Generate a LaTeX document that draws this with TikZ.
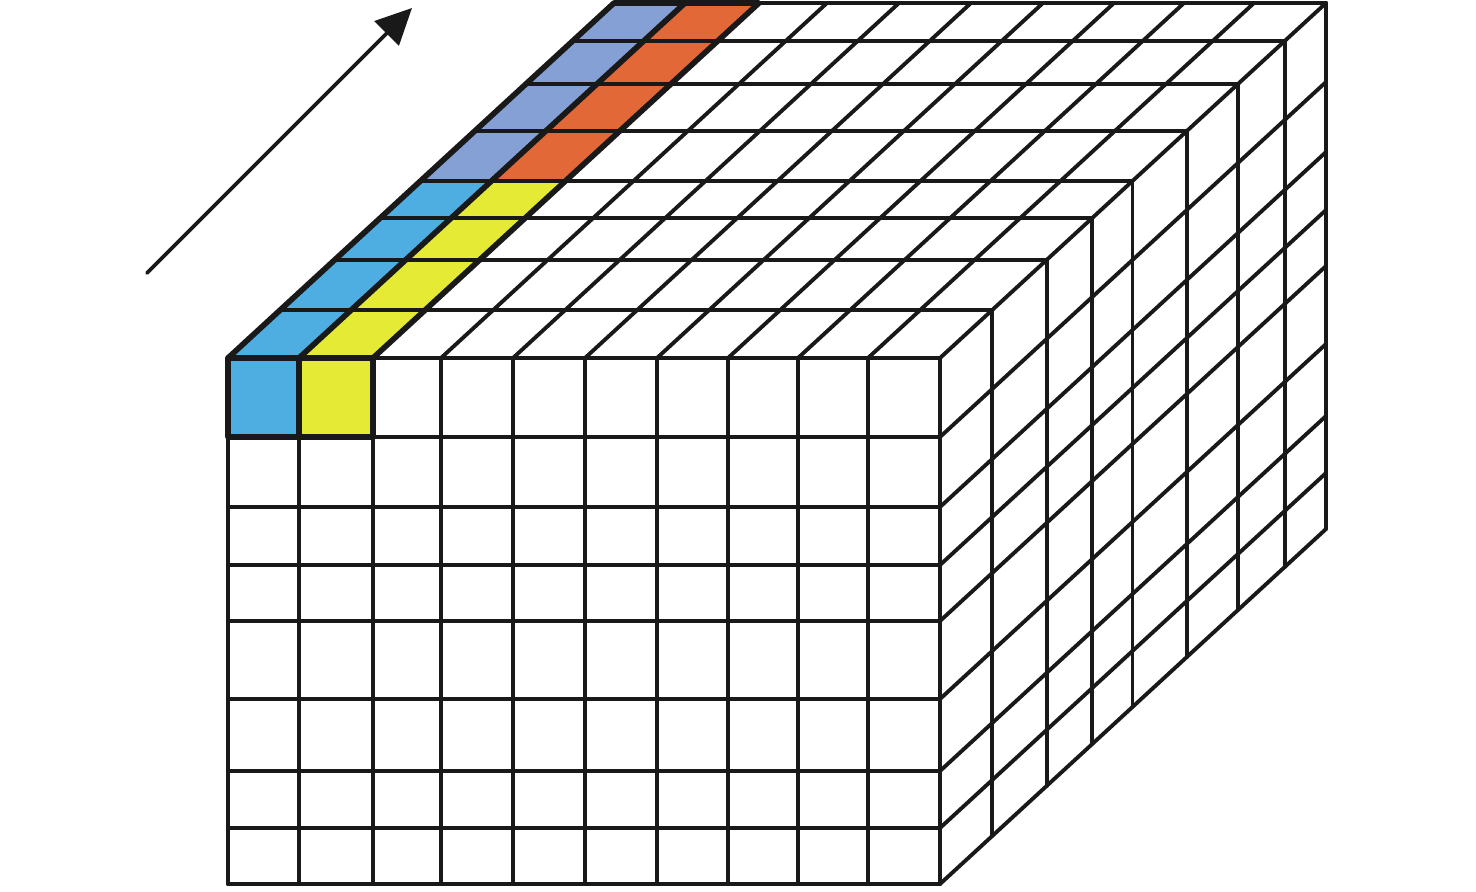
\documentclass[tikz,border=0pt]{standalone}
\usetikzlibrary{arrows.meta}
\definecolor{cellblue}{RGB}{78,174,226}
\definecolor{cellyellow}{RGB}{229,235,53}
\definecolor{cellviolet}{RGB}{132,160,212}
\definecolor{cellorange}{RGB}{227,104,56}
\tikzset{
  gridline/.style={line width=1.1pt,draw=black!90},
  boldedge/.style={line width=1.6pt,draw=black!90}
}

\begin{document}
\begin{tikzpicture}[x=0.01cm,y=-0.01cm,line join=round,line cap=round]
\useasboundingbox (0,0) rectangle (1476,891);
% coloured strips on top and front
\fill [cellblue] (228,358) -- (299,358) -- (491,181) -- (420,181) -- cycle;
\fill [cellyellow] (299,358) -- (373,358) -- (565,181) -- (491,181) -- cycle;
\fill [cellviolet] (420,181) -- (491,181) -- (685,3) -- (614,3) -- cycle;
\fill [cellorange] (491,181) -- (565,181) -- (759,3) -- (685,3) -- cycle;
\fill [cellblue] (228,358) rectangle (299,437);
\fill [cellyellow] (299,358) rectangle (373,437);
% front face
\foreach \x in {228,299,373,441,513,585,657,728,798,868,940}
  \draw [gridline] (\x,358) -- (\x,884);
\foreach \y in {358,437,507,565,621,699,771,828,884}
  \draw [gridline] (228,\y) -- (940,\y);
% top face
\foreach \x in {228,299,373,441,513,585,657,728,798,868,940}
  \draw [gridline] (\x,358) -- ++(386,-355);
% right face
\foreach \y in {437,507,565,621,699,771,828,884}
  \draw [gridline] (940,\y) -- ++(386,-355);
% depth layers
\foreach \d in {48,98,140,177,227,274,317,355} {
  \pgfmathsetmacro\dx{\d*1.0873}
  \draw [gridline] (228+\dx,358-\d) -- (940+\dx,358-\d);
  \draw [gridline] (940+\dx,358-\d) -- (940+\dx,884-\d);
}
% bold edges round the coloured cells
\draw [boldedge] (228,437) -- (228,358) -- (614,3) -- (759,3) -- (373,358) -- (373,437) -- cycle;
\draw [boldedge] (299,437) -- (299,358) -- (685,3);
\draw [boldedge] (228,358) -- (373,358);
% direction arrow
\draw [line width=1.1pt,draw=black!90,fill=black!90,-{Triangle[length=0.36cm,width=0.34cm]}] (147,273) -- (412,8);
\end{tikzpicture}
\end{document}
